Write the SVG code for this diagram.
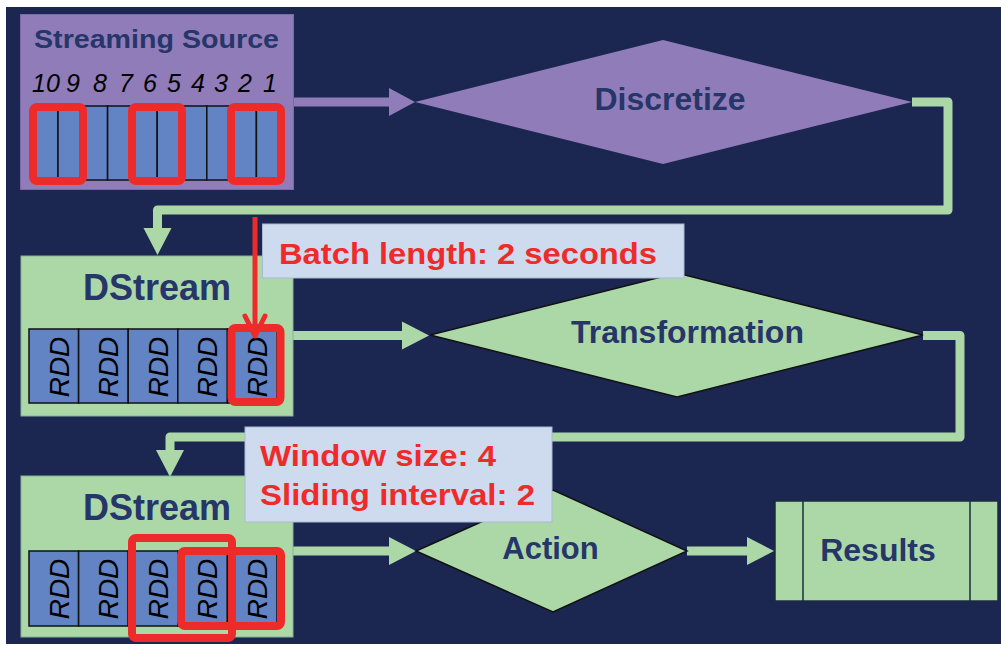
<svg xmlns="http://www.w3.org/2000/svg" width="1001" height="646" viewBox="0 0 1001 646">
  <style>
    .title { font-family: "Liberation Sans", Arial, sans-serif; font-weight: bold; fill: #263668; }
    .note { font-family: "Liberation Sans", Arial, sans-serif; font-weight: bold; fill: #ee2b2b; font-size: 29px; }
    .digit { font-family: "Liberation Sans", Arial, sans-serif; font-style: italic; fill: #000; font-size: 25px; text-anchor: middle; }
    .rdd { font-family: "Liberation Sans", Arial, sans-serif; font-style: italic; fill: #000; font-size: 28px; text-anchor: middle; }
    .cell { fill: #6283c4; stroke: #111; stroke-width: 1.5; }
    .hl { fill: none; stroke: #ee2b2b; stroke-width: 8; }
    .green-line { fill: none; stroke: #acd8a8; stroke-width: 9; stroke-linejoin: round; }
    .purple-line { fill: none; stroke: #917cba; stroke-width: 9; }
    .stream { fill: #acd8a8; stroke: #86b39c; stroke-width: 1; }
    .label-box { fill: #cedbee; stroke: #a8b9d4; stroke-width: 1; }
  </style>
  <defs>
    <marker id="head-green" markerUnits="userSpaceOnUse" markerWidth="28" markerHeight="30" viewBox="0 -15 28 30" refX="0" refY="0" orient="auto">
      <path d="M0,-14 L27,0 L0,14 Z" fill="#acd8a8"/>
    </marker>
    <marker id="head-purple" markerUnits="userSpaceOnUse" markerWidth="28" markerHeight="30" viewBox="0 -15 28 30" refX="0" refY="0" orient="auto">
      <path d="M0,-14 L26,0 L0,14 Z" fill="#917cba"/>
    </marker>
  </defs>

  <!-- backdrop -->
  <rect x="0" y="0" width="1001" height="646" fill="#ffffff"/>
  <rect x="6" y="7" width="995" height="637" fill="#1b2651"/>

  <!-- connectors -->
  <g id="connectors">
    <path class="purple-line" d="M293,102 H389" marker-end="url(#head-purple)"/>
    <path class="green-line" d="M912,102 H948 V210 H157.5 V228" marker-end="url(#head-green)"/>
    <path class="green-line" d="M293,335.5 H402" marker-end="url(#head-green)"/>
    <path class="green-line" d="M923,335.5 H960 V437 H170 V450" marker-end="url(#head-green)"/>
    <path class="green-line" d="M293,551 H389" marker-end="url(#head-green)"/>
    <path class="green-line" d="M687,551 H747" marker-end="url(#head-green)"/>
  </g>

  <!-- source of the stream -->
  <g id="streaming-source">
    <rect x="20.5" y="14.5" width="273" height="175" fill="#917cba" stroke="#7c69a7" stroke-width="1"/>
    <text class="title" x="34" y="48" font-size="25" textLength="245" lengthAdjust="spacingAndGlyphs">Streaming Source</text>
    <text class="digit" x="46" y="92">10</text>
    <text class="digit" x="73" y="92">9</text>
    <text class="digit" x="100" y="92">8</text>
    <text class="digit" x="126" y="92">7</text>
    <text class="digit" x="150" y="92">6</text>
    <text class="digit" x="174" y="92">5</text>
    <text class="digit" x="198" y="92">4</text>
    <text class="digit" x="221" y="92">3</text>
    <text class="digit" x="245" y="92">2</text>
    <text class="digit" x="270" y="92">1</text>
    <rect class="cell" x="33.2" y="106" width="24.8" height="74"/>
    <rect class="cell" x="58" y="106" width="24.8" height="74"/>
    <rect class="cell" x="82.8" y="106" width="24.8" height="74"/>
    <rect class="cell" x="107.6" y="106" width="24.8" height="74"/>
    <rect class="cell" x="132.4" y="106" width="24.8" height="74"/>
    <rect class="cell" x="157.2" y="106" width="24.8" height="74"/>
    <rect class="cell" x="182" y="106" width="24.8" height="74"/>
    <rect class="cell" x="206.8" y="106" width="24.8" height="74"/>
    <rect class="cell" x="231.6" y="106" width="24.8" height="74"/>
    <rect class="cell" x="256.4" y="106" width="24.8" height="74"/>
    <rect class="hl" x="33" y="107" width="50" height="74" rx="4"/>
    <rect class="hl" x="132" y="107" width="50" height="74" rx="4"/>
    <rect class="hl" x="231" y="107" width="50" height="74" rx="4"/>
  </g>

  <g id="discretize">
    <polygon points="415,102 663,40 912,102 663,164" fill="#917cba"/>
    <text class="title" x="670" y="110" font-size="32" text-anchor="middle">Discretize</text>
  </g>

  <!-- first discretized stream -->
  <g id="dstream-1">
    <rect class="stream" x="21" y="256" width="272" height="160"/>
    <text class="title" x="83" y="300" font-size="36">DStream</text>
    <rect class="cell" x="29" y="329" width="49.6" height="74"/>
    <rect class="cell" x="78.6" y="329" width="49.6" height="74"/>
    <rect class="cell" x="128.2" y="329" width="49.6" height="74"/>
    <rect class="cell" x="177.8" y="329" width="49.6" height="74"/>
    <rect class="cell" x="227.4" y="329" width="49.6" height="74"/>
    <text class="rdd" transform="translate(68.5,367) rotate(-90)">RDD</text>
    <text class="rdd" transform="translate(118.1,367) rotate(-90)">RDD</text>
    <text class="rdd" transform="translate(167.7,367) rotate(-90)">RDD</text>
    <text class="rdd" transform="translate(217.3,367) rotate(-90)">RDD</text>
    <text class="rdd" transform="translate(266.9,367) rotate(-90)">RDD</text>
    <rect class="hl" x="231.5" y="328" width="49" height="74" rx="4"/>
  </g>

  <g id="transformation">
    <polygon points="430,335 677,273 923,335 677,397" fill="#acd8a8" stroke="#111" stroke-width="1.5"/>
    <text class="title" x="687.5" y="343" font-size="32" text-anchor="middle">Transformation</text>
  </g>

  <g id="batch-note">
    <rect class="label-box" x="262.5" y="224" width="421.5" height="54"/>
    <text class="note" x="279" y="264" textLength="378" lengthAdjust="spacingAndGlyphs">Batch length: 2 seconds</text>
    <path d="M255,217 V334" stroke="#ee2b2b" stroke-width="5" fill="none"/>
    <polyline points="245,316 255,336 265,316" stroke="#ee2b2b" stroke-width="5" fill="none" stroke-linecap="round" stroke-linejoin="round"/>
  </g>

  <!-- windowed stream -->
  <g id="dstream-2">
    <rect class="stream" x="21" y="476" width="272" height="161"/>
    <text class="title" x="83" y="520" font-size="36">DStream</text>
    <rect class="cell" x="29" y="551" width="49.6" height="75"/>
    <rect class="cell" x="78.6" y="551" width="49.6" height="75"/>
    <rect class="cell" x="128.2" y="551" width="49.6" height="75"/>
    <rect class="cell" x="177.8" y="551" width="49.6" height="75"/>
    <rect class="cell" x="227.4" y="551" width="49.6" height="75"/>
    <text class="rdd" transform="translate(68.5,589) rotate(-90)">RDD</text>
    <text class="rdd" transform="translate(118.1,589) rotate(-90)">RDD</text>
    <text class="rdd" transform="translate(167.7,589) rotate(-90)">RDD</text>
    <text class="rdd" transform="translate(217.3,589) rotate(-90)">RDD</text>
    <text class="rdd" transform="translate(266.9,589) rotate(-90)">RDD</text>
    <rect class="hl" x="132" y="538" width="100" height="100" rx="4"/>
    <rect class="hl" x="181" y="551" width="100" height="75" rx="4"/>
  </g>

  <g id="action">
    <polygon points="416,551 553,490 687,551 553,612" fill="#acd8a8" stroke="#111" stroke-width="1.5"/>
    <text class="title" x="550.5" y="559" font-size="31" text-anchor="middle">Action</text>
  </g>

  <g id="window-note">
    <rect class="label-box" x="245" y="427" width="307" height="95"/>
    <text class="note" x="260" y="466" textLength="236" lengthAdjust="spacingAndGlyphs">Window size: 4</text>
    <text class="note" x="260" y="505" textLength="275" lengthAdjust="spacingAndGlyphs">Sliding interval: 2</text>
  </g>

  <g id="results">
    <rect x="775" y="501" width="223" height="100" fill="#acd8a8" stroke="#1d2c3c" stroke-width="1.5"/>
    <path d="M803,501 V601 M970,501 V601" stroke="#1d2c3c" stroke-width="1.5" fill="none"/>
    <text class="title" x="878" y="561" font-size="32" text-anchor="middle">Results</text>
  </g>
</svg>
